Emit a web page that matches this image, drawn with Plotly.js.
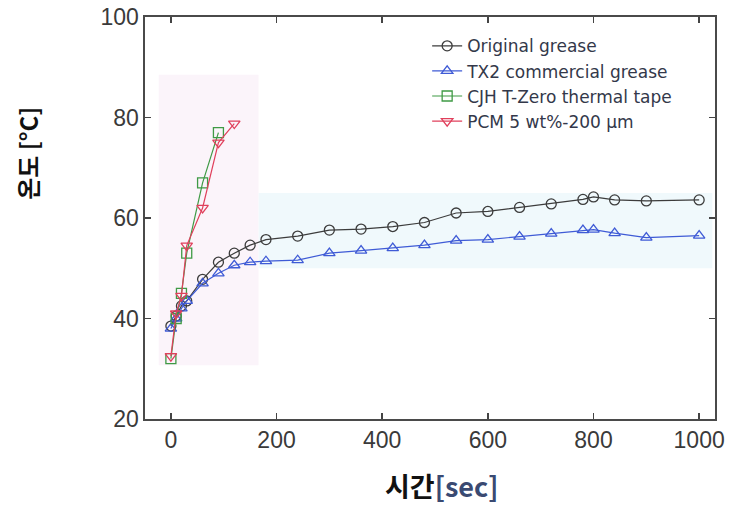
<!DOCTYPE html>
<html>
<head>
<meta charset="utf-8">
<script src="https://cdn.plot.ly/plotly-3.0.1.min.js"></script>
<style>html,body{margin:0;padding:0;background:#fff;}#chart{width:733px;height:506px;}</style>
</head>
<body>
<div id="chart"></div>
<script>
// Data
const origTime = [0, 10, 20, 30, 60, 90, 120, 150, 180, 240, 300, 360, 420, 480, 540, 600, 660, 720, 780, 800, 840, 900, 1000];
const origTemp = [38.5, 40.5, 42.5, 43.5, 47.8, 51.2, 53.0, 54.6, 55.7, 56.4, 57.6, 57.8, 58.3, 59.1, 61.0, 61.3, 62.1, 62.8, 63.7, 64.2, 63.6, 63.4, 63.6];

const tx2Time = [0, 10, 20, 30, 60, 90, 120, 150, 180, 240, 300, 360, 420, 480, 540, 600, 660, 720, 780, 800, 840, 900, 1000];
const tx2Temp = [38.0, 40.0, 42.0, 43.5, 47.0, 49.0, 50.6, 51.2, 51.4, 51.6, 53.0, 53.5, 54.0, 54.6, 55.5, 55.7, 56.3, 56.9, 57.6, 57.7, 57.0, 56.1, 56.5];

const cjhTime = [0, 10, 20, 30, 60, 90];
const cjhTemp = [32.0, 40.0, 45.0, 53.0, 67.0, 77.0];

const pcmTime = [0, 10, 20, 30, 60, 90, 120];
const pcmTemp = [32.5, 41.0, 44.5, 54.5, 62.0, 75.0, 78.8];

const seriesNames = ["Original grease", "TX2 commercial grease", "CJH T-Zero thermal tape", "PCM 5 wt%-200 \u00b5m"];
const xTickVals = [0, 200, 400, 600, 800, 1000];
const yTickVals = [20, 40, 60, 80, 100];

const colors = ["#3c3c3c", "#3f5bd6", "#3f9a45", "#e0405c"];
const symbols = ["circle-open", "triangle-up-open", "square-open", "triangle-down-open"];
const xs = [origTime, tx2Time, cjhTime, pcmTime];
const ys = [origTemp, tx2Temp, cjhTemp, pcmTemp];

const traces = xs.map((x, i) => ({
  x: x, y: ys[i], name: seriesNames[i], type: "scatter", mode: "lines+markers",
  line: {color: colors[i], width: 1.2},
  marker: {symbol: symbols[i], size: 10, color: colors[i], line: {color: colors[i], width: 1.3}}
}));

const tickFont = {family: "Liberation Sans, Arial, sans-serif", size: 23, color: "#3a3a3a"};

const layout = {
  width: 733, height: 506,
  margin: {l: 145, r: 18, t: 17, b: 87},
  paper_bgcolor: "#ffffff", plot_bgcolor: "#ffffff",
  showlegend: true,
  legend: {
    x: 0.495, y: 0.972, xanchor: "left", yanchor: "top",
    bgcolor: "rgba(0,0,0,0)",
    font: {family: "DejaVu Sans, sans-serif", size: 17, color: "#33384a"},
    tracegroupgap: 0, itemwidth: 30
  },
  xaxis: {
    range: [-49, 1030], tickvals: xTickVals, ticks: "inside", ticklen: 6, tickwidth: 1.5, tickcolor: "#444",
    showline: true, linecolor: "#4a4a4a", linewidth: 1.6, mirror: "ticks",
    showgrid: false, zeroline: false, tickfont: tickFont
  },
  yaxis: {
    range: [20, 100], tickvals: yTickVals, ticks: "inside", ticklen: 6, tickwidth: 1.5, tickcolor: "#444",
    showline: true, linecolor: "#4a4a4a", linewidth: 1.6, mirror: "ticks",
    showgrid: false, zeroline: false, tickfont: tickFont
  },
  shapes: [
    {type: "rect", xref: "x", yref: "y", x0: -23, x1: 166, y0: 30.7, y1: 88.5, fillcolor: "#fbf4fa", line: {width: 0}, layer: "below"},
    {type: "rect", xref: "x", yref: "y", x0: 166, x1: 1025, y0: 50.0, y1: 65.0, fillcolor: "#f0f9fc", line: {width: 0}, layer: "below"}
  ],
  annotations: [
    {xref: "paper", yref: "paper", x: 0.52, y: -0.165, xanchor: "center", yanchor: "middle", showarrow: false,
     text: "<b>시간<span style='color:#3a4a72'>[sec]</span></b>",
     font: {family: "Noto Sans CJK KR, Liberation Sans, sans-serif", size: 27, color: "#111"}},
    {xref: "paper", yref: "paper", x: -0.205, y: 0.66, xanchor: "center", yanchor: "middle", showarrow: false, textangle: -90,
     text: "<b>온도 [°C]</b>",
     font: {family: "Noto Sans CJK KR, Liberation Sans, sans-serif", size: 24, color: "#111"}}
  ]
};

Plotly.newPlot("chart", traces, layout, {displayModeBar: false, staticPlot: true});
</script>
</body>
</html>
